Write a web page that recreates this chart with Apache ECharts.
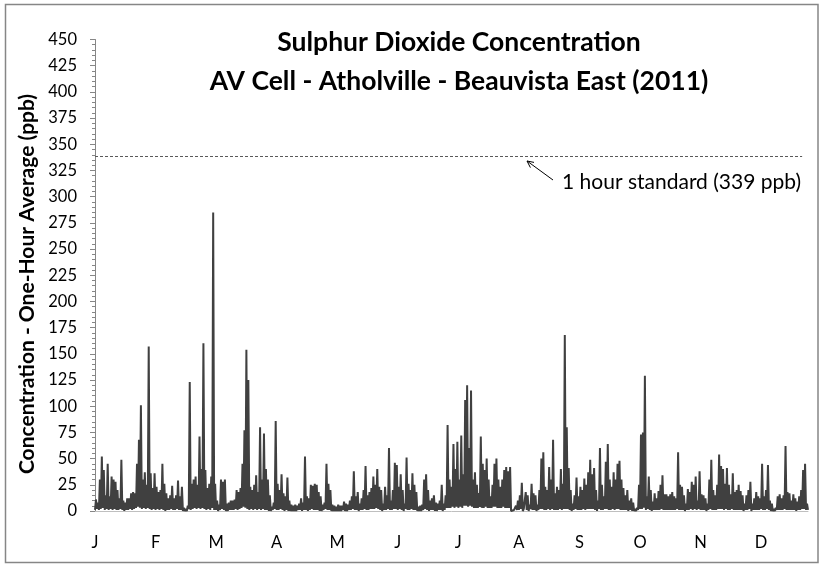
<!DOCTYPE html>
<html>
<head>
<meta charset="utf-8">
<script src="https://cdn.jsdelivr.net/npm/echarts@6/dist/echarts.min.js"></script>
<style>html,body{margin:0;padding:0;background:#fff;}#c{width:820px;height:565px;}</style>
</head>
<body>
<div id="c"></div>
<script>
// Month tick labels (one label every 31 days)
const MONTHS = ['J','F','M','A','M','J','J','A','S','O','N','D'];
const MONTH_STEP_DAYS = 31;
const DAYS_IN_YEAR = 365;
// 1-hour standard
const STANDARD = 339;
const STANDARD_LABEL = '1 hour standard (339 ppb)';
// y axis
const Y_MIN = 0, Y_MAX = 450, Y_STEP = 25;

// Daily maximum one-hour SO2 (ppb)
const dailyHigh = [
  11,8,30,52,39,15,45,14,33,30,
  28,20,12,49,10,8,12,12,17,18,
  17,45,68,101,30,37,25,157,36,22,
  36,23,18,20,45,26,17,12,15,24,
  12,15,29,14,23,3,2,5,123,26,
  30,33,25,71,40,160,39,22,26,33,
  285,26,10,6,30,28,30,7,8,10,
  10,11,20,18,22,45,77,154,125,23,
  20,25,34,18,80,30,74,40,30,15,
  4,8,86,26,20,35,17,14,32,10,
  6,5,6,5,7,12,8,52,14,12,
  25,24,26,25,18,14,6,8,45,26,
  20,6,5,4,6,5,5,9,7,6,
  10,14,38,14,18,7,12,20,43,15,
  18,22,33,25,40,23,20,7,23,15,
  60,10,20,46,44,23,35,20,7,51,
  26,20,36,25,18,4,5,6,30,35,
  20,10,12,15,8,7,10,25,7,15,
  82,30,23,64,40,66,30,72,35,106,
  120,60,115,30,37,25,17,71,45,39,
  50,30,14,25,45,50,30,23,30,39,
  42,38,42,1,1,5,10,15,27,2,
  18,15,6,26,17,15,6,20,50,56,
  23,20,42,30,68,17,23,20,40,26,
  168,80,41,20,7,15,32,14,23,20,
  31,25,37,49,35,41,20,10,60,25,
  14,47,64,30,23,37,30,45,48,30,
  22,15,20,10,12,8,2,3,25,73,
  75,129,14,33,20,9,17,12,19,25,
  34,16,16,14,16,18,14,12,56,25,
  23,15,7,21,18,28,25,33,10,38,
  16,15,12,7,30,49,20,15,25,54,
  43,40,26,41,25,16,36,18,20,25,
  19,15,7,15,20,28,7,12,18,14,
  12,45,14,20,44,10,7,2,3,14,
  16,12,15,62,18,17,10,16,12,9,
  14,20,39,45,7
];

// Daily minimum one-hour SO2 (ppb)
const dailyLow = [
  1,2,1,2,3,1,2,1,2,1,
  2,1,1,2,1,0,1,1,2,1,
  2,3,4,3,2,3,2,3,2,1,
  2,1,2,1,2,1,0,1,1,2,
  1,1,2,1,1,0,0,0,2,1,
  2,3,2,3,2,3,2,1,2,1,
  3,1,1,0,1,2,1,0,0,1,
  1,1,2,1,2,3,4,3,2,1,
  2,1,2,1,2,1,2,1,1,0,
  0,1,2,1,1,2,1,0,1,0,
  0,0,0,0,1,1,0,1,1,0,
  1,2,1,1,1,0,0,1,2,1,
  1,0,0,0,0,0,0,1,0,0,
  1,1,2,1,1,0,1,1,2,1,
  1,2,2,2,3,2,1,0,1,1,
  2,1,1,2,2,1,2,1,0,2,
  1,1,2,1,1,0,0,0,1,2,
  1,0,1,1,0,0,1,1,0,1,
  3,3,3,4,3,4,3,4,3,5,
  5,4,5,4,3,3,3,4,3,3,
  4,3,3,3,4,4,3,3,3,4,
  3,3,3,0,0,0,1,1,2,0,
  1,1,0,2,1,1,0,1,2,2,
  1,1,2,1,2,1,1,1,2,1,
  2,2,2,1,0,1,2,1,1,1,
  2,1,2,2,2,2,1,0,2,1,
  1,2,2,1,1,2,1,2,2,1,
  1,1,1,0,1,0,0,0,1,2,
  2,3,1,2,1,0,1,1,1,1,
  2,1,1,1,1,1,1,1,2,1,
  1,1,0,1,1,2,1,2,1,2,
  1,1,1,0,1,2,1,1,1,2,
  2,2,1,2,1,1,2,1,1,1,
  1,1,0,1,1,2,0,1,1,1,
  1,2,1,1,2,1,0,0,0,1,
  1,1,1,2,1,1,1,1,1,0,
  1,1,2,2,1
];

// Build the trace: each day goes low -> high
const trace = [];
for (let d = 0; d < dailyHigh.length; d++) {
  trace.push([d, dailyLow[d]]);
  trace.push([d + 0.5, dailyHigh[d]]);
}
trace.push([DAYS_IN_YEAR, dailyLow[dailyLow.length - 1]]);

const FONT = 'Lato, "Open Sans", sans-serif';
const chart = echarts.init(document.getElementById('c'), null, {renderer: 'canvas'});
chart.setOption({
  animation: false,
  backgroundColor: '#ffffff',
  title: {
    text: 'Sulphur Dioxide Concentration\nAV Cell - Atholville - Beauvista East (2011)',
    left: 454, top: 18, textAlign: 'center',
    textStyle: {fontFamily: FONT, fontSize: 26.5, fontWeight: 'bold', color: '#000', lineHeight: 39}
  },
  grid: {left: 95, right: 12, top: 39.5, bottom: 54},
  xAxis: {
    type: 'value', min: 0, max: DAYS_IN_YEAR, interval: MONTH_STEP_DAYS,
    axisLine: {show: true, lineStyle: {color: '#bfbfbf', width: 1}},
    axisTick: {show: false},
    splitLine: {show: false},
    axisLabel: {
      margin: 23, fontFamily: FONT, fontSize: 16.5, color: '#000',
      formatter: v => (v % MONTH_STEP_DAYS === 0 && v / MONTH_STEP_DAYS < MONTHS.length) ? MONTHS[v / MONTH_STEP_DAYS] : ''
    }
  },
  yAxis: {
    type: 'value', min: Y_MIN, max: Y_MAX, interval: Y_STEP,
    axisLine: {show: true, lineStyle: {color: '#868686', width: 1}},
    axisTick: {show: true, length: 5, lineStyle: {color: '#868686'}},
    minorTick: {show: true, splitNumber: 5, length: 3, lineStyle: {color: '#868686'}},
    splitLine: {show: false},
    axisLabel: {margin: 18, fontFamily: FONT, fontSize: 16.5, color: '#000'}
  },
  series: [{
    type: 'line',
    data: trace,
    showSymbol: false,
    symbol: 'none',
    lineStyle: {color: '#404040', width: 2},
    z: 3,
    markLine: {
      silent: true, symbol: 'none', label: {show: false},
      lineStyle: {color: '#595959', type: [3, 2], width: 1},
      data: [[{coord: [0, STANDARD]}, {coord: [362, STANDARD]}]]
    }
  }],
  graphic: [
    {type: 'rect', shape: {x: 5.5, y: 4.5, width: 812.5, height: 558}, style: {fill: null, stroke: '#868686', lineWidth: 1.5}, z: 0, silent: true},
    {type: 'text', x: 27, y: 284, rotation: Math.PI / 2,
     style: {text: 'Concentration - One-Hour Average (ppb)', fontFamily: FONT, fontSize: 21, fontWeight: 'bold', fill: '#000', align: 'center', verticalAlign: 'middle'}},
    {type: 'text', x: 562, y: 182,
     style: {text: STANDARD_LABEL, fontFamily: FONT, fontSize: 21, fill: '#000', align: 'left', verticalAlign: 'middle'}},
    {type: 'polyline', shape: {points: [[553, 180], [527, 161]]}, style: {stroke: '#000', lineWidth: 1, fill: null}},
    {type: 'polyline', shape: {points: [[530.4, 167.6], [527, 161], [534, 162.4]]}, style: {stroke: '#000', lineWidth: 1, fill: null}}
  ]
});
</script>
</body>
</html>
